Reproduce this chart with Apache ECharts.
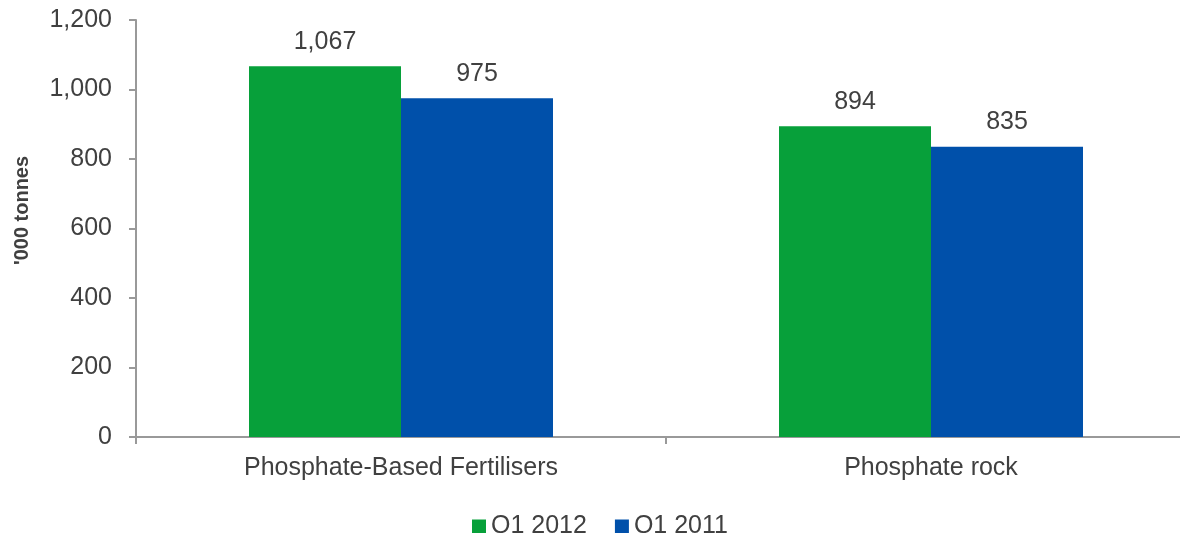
<!DOCTYPE html>
<html>
<head>
<meta charset="utf-8">
<script src="https://cdn.jsdelivr.net/npm/echarts@6/dist/echarts.min.js"></script>
<style>
  html, body { margin: 0; padding: 0; background: #fff; }
  #chart { width: 1180px; height: 533px; }
</style>
</head>
<body>
<div id="chart"></div>
<script>
// Phosphate production, '000 tonnes
const categories = ['Phosphate-Based Fertilisers', 'Phosphate rock'];
const q1_2012 = [1067, 894];
const q1_2011 = [975, 835];
const yTicks = { min: 0, max: 1200, interval: 200 };

const textColor = '#404040';
const axisColor = '#999999';
const fontFamily = '"Liberation Sans", Arial, sans-serif';
const fontSize = 25;

const fmt = v => Number(v).toLocaleString('en-US');

const labelStyle = {
  show: true,
  position: 'top',
  distance: 12,
  color: textColor,
  fontSize: fontSize,
  fontFamily: fontFamily,
  formatter: p => fmt(p.value)
};

const chart = echarts.init(document.getElementById('chart'), null, { renderer: 'canvas' });
chart.setOption({
  animation: false,
  textStyle: { fontFamily: fontFamily, color: textColor },
  // plot area runs slightly past the right edge of the canvas
  grid: {
    left: 136, top: 20, right: -16, bottom: 96,
    containLabel: false,
    outerBoundsMode: 'none'
  },
  legend: {
    left: 467,
    top: 509,
    icon: 'rect',
    itemWidth: 14,
    itemHeight: 14,
    itemGap: 28,
    textStyle: { fontSize: fontSize, color: textColor, fontFamily: fontFamily },
    data: ['Q1 2012', 'Q1 2011']
  },
  xAxis: {
    type: 'category',
    data: categories,
    axisLine: { lineStyle: { color: axisColor, width: 2 } },
    axisTick: { show: true, length: 7, lineStyle: { color: axisColor, width: 2 } },
    axisLabel: { fontSize: fontSize, color: textColor, margin: 19, fontFamily: fontFamily }
  },
  yAxis: {
    type: 'value',
    min: yTicks.min,
    max: yTicks.max,
    interval: yTicks.interval,
    name: "'000 tonnes",
    nameLocation: 'middle',
    nameGap: 104,
    nameTextStyle: {
      fontSize: 20, fontWeight: 'bold', color: textColor, fontFamily: fontFamily,
      padding: [0, 0, 0, 36]
    },
    axisLine: { show: true, lineStyle: { color: axisColor, width: 2 } },
    axisTick: { show: true, length: 7, lineStyle: { color: axisColor, width: 2 } },
    splitLine: { show: false },
    axisLabel: { fontSize: fontSize, color: textColor, margin: 24, fontFamily: fontFamily, formatter: v => fmt(v) }
  },
  series: [
    {
      name: 'Q1 2012',
      type: 'bar',
      data: q1_2012,
      barWidth: 152,
      barGap: '0%',
      itemStyle: { color: '#07A03A' },
      label: labelStyle
    },
    {
      name: 'Q1 2011',
      type: 'bar',
      data: q1_2011,
      barWidth: 152,
      barGap: '0%',
      itemStyle: { color: '#0050AA' },
      label: labelStyle
    }
  ]
});
</script>
</body>
</html>
